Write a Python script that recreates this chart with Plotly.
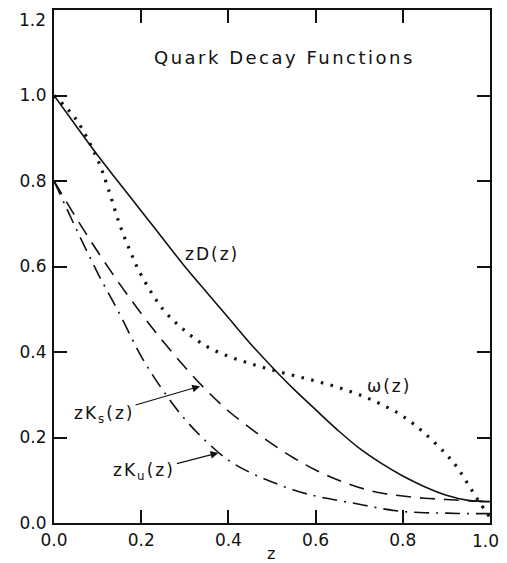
import plotly.graph_objects as go

# ---- data ----
z_D = [0.0, 0.05, 0.1, 0.15, 0.2, 0.25, 0.3, 0.35, 0.4, 0.45, 0.5, 0.55,
       0.6, 0.65, 0.7, 0.75, 0.8, 0.85, 0.9, 0.95, 1.0]
zD = [1.0, 0.93, 0.86, 0.795, 0.73, 0.665, 0.60, 0.54, 0.48, 0.42, 0.365, 0.313,
      0.265, 0.218, 0.175, 0.14, 0.11, 0.085, 0.065, 0.053, 0.05]

z_w = [0.0, 0.05, 0.1, 0.125, 0.15, 0.175, 0.2, 0.25, 0.3, 0.35, 0.4, 0.45, 0.5,
       0.55, 0.6, 0.65, 0.7, 0.75, 0.8, 0.85, 0.9, 0.925, 0.95, 0.975, 1.0]
omega = [1.0, 0.945, 0.85, 0.78, 0.70, 0.635, 0.58, 0.50, 0.45, 0.413, 0.39, 0.373,
         0.358, 0.345, 0.332, 0.318, 0.30, 0.278, 0.25, 0.21, 0.16, 0.13, 0.09, 0.05, 0.013]

z_K = [0.0, 0.05, 0.1, 0.15, 0.2, 0.25, 0.3, 0.35, 0.4, 0.45, 0.5, 0.55,
       0.6, 0.65, 0.7, 0.75, 0.8, 0.85, 0.9, 0.95, 1.0]
zKs = [0.8, 0.715, 0.635, 0.56, 0.49, 0.425, 0.365, 0.31, 0.262, 0.222, 0.185, 0.152,
       0.124, 0.101, 0.083, 0.07, 0.063, 0.058, 0.055, 0.052, 0.05]
zKu = [0.8, 0.69, 0.585, 0.49, 0.39, 0.31, 0.243, 0.19, 0.147, 0.118, 0.096, 0.077,
       0.063, 0.053, 0.044, 0.034, 0.027, 0.024, 0.023, 0.022, 0.022]

# inner ticks drawn by the axes; the corner values (x=1.0, y=1.2) sit on the frame
x_ticks = [0.0, 0.2, 0.4, 0.6, 0.8]
x_ticklabels = ["0.0", "0.2", "0.4", "0.6", "0.8"]
x_last_tick, x_last_label = 1.0, "1.0"
y_ticks = [0.0, 0.2, 0.4, 0.6, 0.8, 1.0]
y_ticklabels = ["0.0", "0.2", "0.4", "0.6", "0.8", "1.0"]
y_top_tick, y_top_label = 1.2, "1.2"

FONT = "DejaVu Sans"
INK = "#111111"

fig = go.Figure()
fig.add_trace(go.Scatter(x=z_D, y=zD, mode="lines", line=dict(color=INK, width=1.6, shape="spline"),
                         showlegend=False))
fig.add_trace(go.Scatter(x=z_w, y=omega, mode="lines",
                         line=dict(color=INK, width=3.2, dash="2.5px,7.5px", shape="spline"),
                         showlegend=False))
fig.add_trace(go.Scatter(x=z_K, y=zKs, mode="lines",
                         line=dict(color=INK, width=1.6, dash="15px,9px", shape="spline"),
                         showlegend=False))
fig.add_trace(go.Scatter(x=z_K, y=zKu, mode="lines",
                         line=dict(color=INK, width=1.6, dash="15px,7px,2px,7px", shape="spline"),
                         showlegend=False))

ls = "letter-spacing:2px"
tick_font = dict(family=FONT, size=17, color=INK)
annots = [
    dict(x=0.225, y=1.09, text='<span style="letter-spacing:2.5px">Quark Decay Functions</span>',
         showarrow=False, xanchor="left", yanchor="middle", font=dict(size=18)),
    dict(x=0.296, y=0.629, text=f'<span style="{ls}">zD(z)</span>',
         showarrow=False, xanchor="left", yanchor="middle", font=dict(size=17)),
    dict(x=0.713, y=0.32, text=f'<span style="{ls}">ω(z)</span>',
         showarrow=False, xanchor="left", yanchor="middle", font=dict(size=17)),
    dict(x=0.335, y=0.32, text=f'<span style="{ls}">zK<sub>s</sub>(z)</span>',
         showarrow=True, ax=-96, ay=28, arrowhead=2, arrowsize=1.3, arrowwidth=1.2,
         arrowcolor=INK, font=dict(size=17)),
    dict(x=0.377, y=0.164, text=f'<span style="{ls}">zK<sub>u</sub>(z)</span>',
         showarrow=True, ax=-74, ay=19, arrowhead=2, arrowsize=1.3, arrowwidth=1.2,
         arrowcolor=INK, font=dict(size=17)),
    dict(x=0.497, y=0, xref="paper", yref="paper", yshift=-30, text="z",
         showarrow=False, xanchor="center", yanchor="middle", font=dict(size=16)),
    dict(x=0, xref="paper", y=y_top_tick, yref="y", xshift=-6, yshift=-10, text=y_top_label,
         showarrow=False, xanchor="right", yanchor="middle", font=tick_font),
    dict(x=x_last_tick, xref="x", y=0, yref="paper", xshift=-5, yshift=-18, text=x_last_label,
         showarrow=False, xanchor="center", yanchor="middle", font=tick_font),
]

axis_common = dict(showline=True, linecolor=INK, linewidth=2, mirror="ticks",
                   ticks="inside", ticklen=13, tickwidth=1.5, tickcolor=INK,
                   showgrid=False, zeroline=False, automargin=False,
                   ticklabeloverflow="allow", tickfont=tick_font)

fig.update_layout(
    width=507, height=563,
    margin=dict(l=46, r=25, t=2, b=48),
    paper_bgcolor="white", plot_bgcolor="white",
    font=dict(family=FONT, size=17, color=INK),
    xaxis=dict(range=[0, 1.0], tickvals=x_ticks, ticktext=x_ticklabels,
               ticklabelstandoff=1, **axis_common),
    yaxis=dict(range=[0, 1.2], tickvals=y_ticks, ticktext=y_ticklabels,
               ticklabelstandoff=2, **axis_common),
    annotations=annots,
)

fig.write_html("out.html")
